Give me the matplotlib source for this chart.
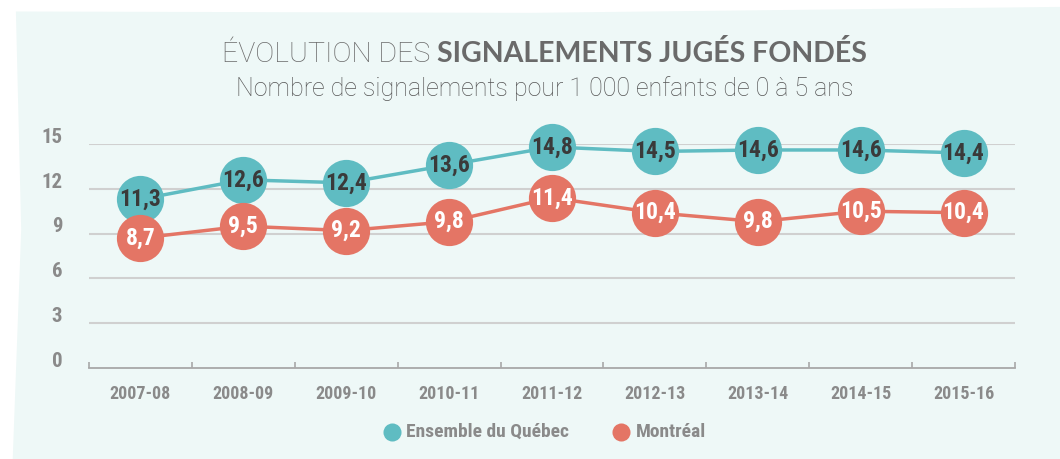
import matplotlib
matplotlib.use("Agg")
import matplotlib.pyplot as plt
from matplotlib.patches import Polygon

# data
years = ["2007-08", "2008-09", "2009-10", "2010-11", "2011-12",
         "2012-13", "2013-14", "2014-15", "2015-16"]
quebec = [11.3, 12.6, 12.4, 13.6, 14.8, 14.5, 14.6, 14.6, 14.4]
montreal = [8.7, 9.5, 9.2, 9.8, 11.4, 10.4, 9.8, 10.5, 10.4]
y_ticks = [0, 3, 6, 9, 12, 15]

TEAL = "#5fbcc2"
RED = "#e47565"
GREY = "#8a8a8a"
BG = "#eef8f7"
NARROW = dict(family=["Roboto Condensed", "Roboto", "DejaVu Sans"], fontweight="bold")

fig = plt.figure(figsize=(10.6, 4.59), dpi=100)
fig.patch.set_facecolor("white")

# mint background card, slightly ragged edge
card = Polygon([(0.015, 0.975), (0.5, 0.972), (1.0, 0.985), (1.0, 0.0),
                (0.012, 0.0), (0.02, 0.5)],
               closed=True, transform=fig.transFigure,
               facecolor=BG, edgecolor="none", zorder=-5)
fig.add_artist(card)

ax = fig.add_axes([89 / 1060, 1 - 368 / 459, (1015 - 89) / 1060, (368 - 144) / 459])
ax.set_facecolor("none")
ax.set_zorder(2)
x = list(range(len(years)))
ax.set_xlim(-0.5, len(years) - 0.5)
ax.set_ylim(0, 15)

for v in y_ticks[1:]:
    ax.axhline(v, color="#d0d0d0", lw=1.5, zorder=1)
for s in ["top", "right", "left"]:
    ax.spines[s].set_visible(False)
ax.spines["bottom"].set_color("#a8a8a8")
ax.spines["bottom"].set_linewidth(1.3)

ax.set_yticks(y_ticks)
ax.set_yticklabels([])
for v in y_ticks:
    ax.text(-0.76, v + 0.45, str(v), ha="right", va="center", fontsize=15,
            color=GREY, clip_on=False, **NARROW)
ax.tick_params(axis="y", length=0)

ax.set_xticks(x)
ax.set_xticklabels(years, fontsize=13, color=GREY, **NARROW)
ax.tick_params(axis="x", length=0, pad=12)
ax.set_xticks([i - 0.5 for i in range(len(years) + 1)], minor=True)
ax.tick_params(axis="x", which="minor", direction="in", length=4, color="#a8a8a8", width=1.2)

ax.plot(x, quebec, color=TEAL, lw=2.5, marker="o", ms=34, mec="none", zorder=3, clip_on=False)
ax.plot(x, montreal, color=RED, lw=2.5, marker="o", ms=34, mec="none", zorder=3, clip_on=False)

for i in x:
    ax.text(i, quebec[i], f"{quebec[i]:.1f}".replace(".", ","), ha="center", va="center",
            fontsize=17, color="#3a3a3a", zorder=4, **NARROW)
    ax.text(i, montreal[i], f"{montreal[i]:.1f}".replace(".", ","), ha="center", va="center",
            fontsize=17, color="white", zorder=4, **NARROW)

# title: light part then bold part, placed end to end and centred together
renderer = fig.canvas.get_renderer()
title_y = 1 - 54 / 459
t1 = fig.text(0, title_y, "ÉVOLUTION DES ", ha="left", va="center",
              fontsize=20.5, color="#6a6a6a", family="Roboto", fontweight="light")
t2 = fig.text(0, title_y, "SIGNALEMENTS JUGÉS FONDÉS", ha="left", va="center",
              fontsize=20.5, color="#6a6a6a", family="Lato", fontweight="bold")
w1 = t1.get_window_extent(renderer).width
w2 = t2.get_window_extent(renderer).width
start = 544 - (w1 + w2) / 2
t1.set_x(start / 1060)
t2.set_x((start + w1) / 1060)
fig.text(545 / 1060, 1 - 89 / 459, "Nombre de signalements pour 1 000 enfants de 0 à 5 ans",
         ha="center", va="center", fontsize=18, color="#555555", family="Roboto",
         fontweight="light")

# legend
fig.add_artist(plt.Line2D([392 / 1060], [1 - 432 / 459], marker="o", ms=13, color=TEAL,
                          mec="none", transform=fig.transFigure))
fig.text(406 / 1060, 1 - 432 / 459, "Ensemble du Québec", ha="left", va="center",
         fontsize=14, color=GREY, **NARROW)
fig.add_artist(plt.Line2D([621 / 1060], [1 - 432 / 459], marker="o", ms=13, color=RED,
                          mec="none", transform=fig.transFigure))
fig.text(636 / 1060, 1 - 432 / 459, "Montréal", ha="left", va="center",
         fontsize=14, color=GREY, **NARROW)

fig.savefig("out.png", dpi=100)
